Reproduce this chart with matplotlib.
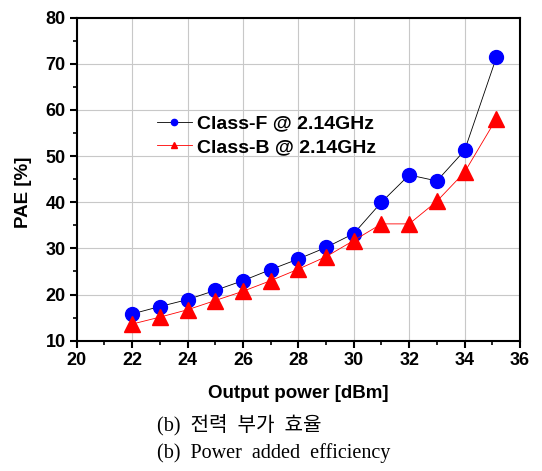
import numpy as np
import matplotlib
matplotlib.use('Agg')
import matplotlib.pyplot as plt
from matplotlib import rcParams
from matplotlib.ticker import MultipleLocator

rcParams['font.family'] = 'sans-serif'
rcParams['font.sans-serif'] = ['Liberation Sans']
rcParams['font.weight'] = 'bold'
rcParams['xtick.direction'] = 'out'
rcParams['ytick.direction'] = 'out'

# data
pout = [22, 23, 24, 25, 26, 27, 28, 29, 30, 31, 32, 33, 34, 35.15]
pae_f = [15.8, 17.4, 18.9, 20.9, 23.0, 25.4, 27.7, 30.2, 33.2, 40.0,
         45.9, 44.6, 51.2, 71.4]
pae_b = [13.6, 15.1, 16.7, 18.7, 20.7, 23.0, 25.5, 28.2, 31.7, 35.3,
         35.3, 40.2, 46.5, 58.1]
labels = ['Class-F @ 2.14GHz', 'Class-B @ 2.14GHz']

W, H = 542, 471
fig = plt.figure(figsize=(W / 100., H / 100.), dpi=100)
ax = fig.add_axes([76.7 / W, 1 - 340.7 / H, (520 - 76.7) / W,
                   (340.7 - 17.5) / H])

ax.plot(pout, pae_f, color='k', linewidth=0.6, marker='o', markersize=10,
        markerfacecolor='#0000ff', markeredgecolor='#0000ff',
        label=labels[0], zorder=3)
ax.plot(pout, pae_b, color='#ff0000', linewidth=0.6, marker='^',
        markersize=11, markerfacecolor='#ff0000',
        markeredgecolor='#ff0000', label=labels[1], zorder=3)

ax.set_xlim(20, 36)
ax.set_ylim(10, 80)
ax.xaxis.set_major_locator(MultipleLocator(2))
ax.xaxis.set_minor_locator(MultipleLocator(1))
ax.yaxis.set_major_locator(MultipleLocator(10))
ax.yaxis.set_minor_locator(MultipleLocator(5))
ax.grid(True, which='major', color='#c8c8c8', linewidth=0.8)
ax.set_axisbelow(True)

for sp in ax.spines.values():
    sp.set_linewidth(1.5)
ax.tick_params(axis='both', which='major', length=5, width=1.5,
               labelsize=13, pad=3, top=False, right=False)
ax.tick_params(axis='both', which='minor', length=3, width=1.2,
               top=False, right=False)
for t in ax.get_xticklabels() + ax.get_yticklabels():
    t.set_fontweight('bold')

fig.text(298.4 / W, 1 - 394 / H, 'Output power [dBm]', fontsize=13.5,
         fontweight='bold', ha='center', va='center')
fig.text(24 / W, 1 - 192 / H, 'PAE [%]', fontsize=13.5, fontweight='bold',
         rotation=90, ha='center', va='center')

leg = ax.legend(loc='upper left', bbox_to_anchor=(156.7 / W, 1 - 115 / H),
                bbox_transform=fig.transFigure, frameon=False,
                prop={'size': 14, 'weight': 'bold'}, markerscale=0.45,
                handlelength=1.8, handletextpad=0.27, labelspacing=0.3,
                borderpad=0, borderaxespad=0)

fig.text(156.7 / W, 1 - 425 / H, '(b)  전력  부가  효율', fontsize=14.5,
         family=['Liberation Serif', 'Noto Sans CJK KR'], fontweight='normal',
         ha='left', va='center')
fig.text(156.7 / W, 1 - 453 / H, '(b)  Power  added  efficiency',
         fontsize=14.5, family=['Liberation Serif'], fontweight='normal',
         ha='left', va='center')

plt.savefig('out.png', dpi=100)
